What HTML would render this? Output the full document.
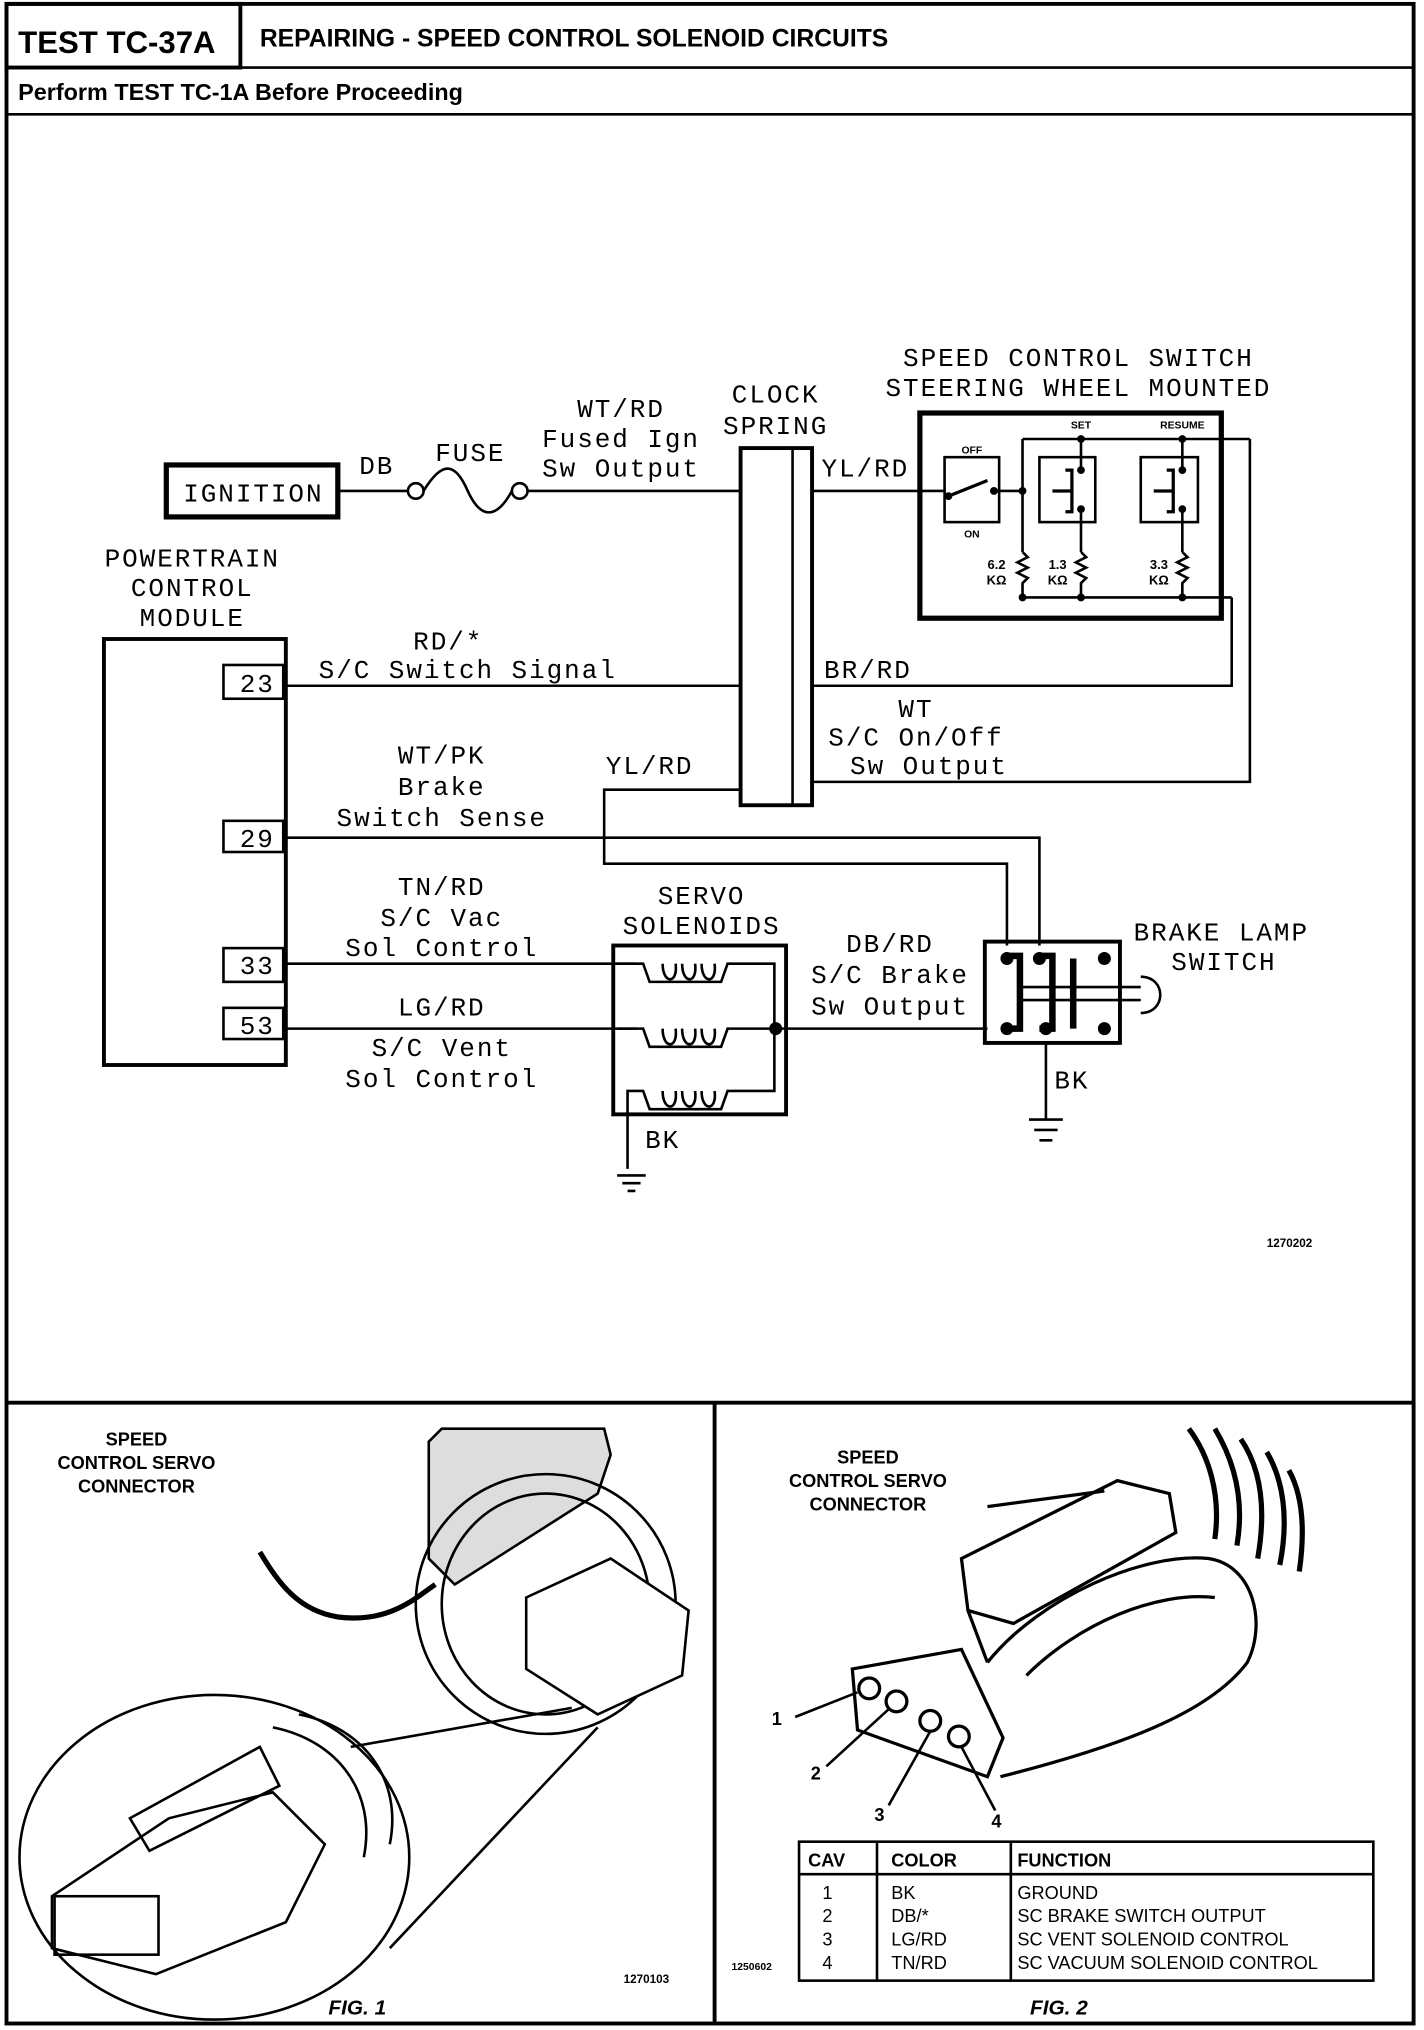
<!DOCTYPE html>
<html><head><meta charset="utf-8"><style>
html,body{margin:0;padding:0;background:#fff;overflow:hidden;width:1424px;height:2030px}
svg{display:block}
.m{font-family:"Liberation Mono",monospace;font-size:20px;letter-spacing:1.5px;fill:#000;text-anchor:middle}
.b{font-family:"Liberation Sans",sans-serif;font-weight:bold;fill:#000}
.t{font-family:"Liberation Sans",sans-serif;font-size:14px;fill:#000}
</style></head><body>
<svg width="1424" height="2030" viewBox="0 0 1096 1563" preserveAspectRatio="none" xmlns="http://www.w3.org/2000/svg">
<g fill="none" stroke="#000" stroke-width="2">
<rect x="5" y="3" width="1083" height="1555" stroke-width="3"/>
<line x1="5" y1="52" x2="1088" y2="52"/>
<rect x="5" y="3" width="180" height="49" stroke-width="3"/>
<line x1="5" y1="88" x2="1088" y2="88"/>
<line x1="5" y1="1080" x2="1088" y2="1080" stroke-width="3"/>
<line x1="550" y1="1080" x2="550" y2="1558" stroke-width="3"/>
</g>
<text class="b" x="14" y="41" font-size="24">TEST TC-37A</text>
<text class="b" x="200" y="36" font-size="19">REPAIRING - SPEED CONTROL SOLENOID CIRCUITS</text>
<text class="b" x="14" y="77" font-size="18">Perform TEST TC-1A Before Proceeding</text>

<g fill="none" stroke="#000" stroke-width="2">
<rect x="128" y="358" width="132" height="40" stroke-width="4"/>
<line x1="260" y1="378" x2="314" y2="378"/>
<circle cx="320" cy="378" r="6"/><circle cx="400" cy="378" r="6"/>
<path d="M326 378 C340 355 350 355 360 378 C370 400 382 400 394 378"/>
<line x1="406" y1="378" x2="570" y2="378"/>
<rect x="570" y="345" width="55" height="275" stroke-width="3"/>
<line x1="610" y1="345" x2="610" y2="620"/>
<line x1="625" y1="378" x2="728" y2="378"/>
<rect x="708" y="318" width="232" height="158" stroke-width="4"/>
<rect x="727" y="352" width="42" height="50"/>
<line x1="730" y1="382" x2="760" y2="370" stroke-width="2.5"/>
<line x1="765" y1="378" x2="787" y2="378"/>
<line x1="787" y1="338" x2="787" y2="425"/>
<line x1="787" y1="338" x2="962" y2="338"/>
<rect x="800" y="352" width="43" height="50"/>
<rect x="878" y="352" width="44" height="50"/>
<line x1="832" y1="338" x2="832" y2="362"/><line x1="832" y1="392" x2="832" y2="425"/>
<line x1="910" y1="338" x2="910" y2="362"/><line x1="910" y1="392" x2="910" y2="425"/>
<path d="M820 362 h5 v32 h-5 M810 378 h15" stroke-width="2.5"/>
<path d="M898 362 h5 v32 h-5 M888 378 h15" stroke-width="2.5"/>
<path d="M787 425 l4 4 l-8 4 l8 4 l-8 4 l8 4 l-4 4 v11"/>
<path d="M832 425 l4 4 l-8 4 l8 4 l-8 4 l8 4 l-4 4 v11"/>
<path d="M910 425 l4 4 l-8 4 l8 4 l-8 4 l8 4 l-4 4 v11"/>
<line x1="787" y1="460" x2="948" y2="460"/>
<polyline points="948,460 948,528 625,528"/>
<polyline points="962,338 962,602 625,602"/>
<rect x="80" y="492" width="140" height="328" stroke-width="3"/>
<rect x="172" y="512" width="46" height="26"/>
<rect x="172" y="632" width="46" height="24"/>
<rect x="172" y="730" width="46" height="26"/>
<rect x="172" y="776" width="46" height="24"/>
<line x1="218" y1="528" x2="570" y2="528"/>
<polyline points="570,608 465,608 465,665 775,665 775,728"/>
<polyline points="218,645 800,645 800,728"/>
<line x1="218" y1="742" x2="490" y2="742"/>
<line x1="218" y1="792" x2="490" y2="792"/>
<rect x="472" y="728" width="133" height="130" stroke-width="3"/>
<path d="M475 742 h20 l5 14 h55 l5 -14 h36 v98 h-36 l-5 14 h-55 l-5 -14 h-12 v60"/>
<path d="M475 792 h20 l5 14 h55 l5 -14 h36"/>
<path d="M510 742 c0 16 12 16 10 0 M525 742 c0 16 12 16 10 0 M540 742 c0 16 12 16 10 0"/>
<path d="M510 792 c0 16 12 16 10 0 M525 792 c0 16 12 16 10 0 M540 792 c0 16 12 16 10 0"/>
<path d="M510 840 c0 16 12 16 10 0 M525 840 c0 16 12 16 10 0 M540 840 c0 16 12 16 10 0"/>
<line x1="597" y1="792" x2="760" y2="792"/>
<path d="M475 905 h22 M479 911 h14 M483 917 h6"/>
<rect x="758" y="725" width="104" height="78" stroke-width="3"/>
<path d="M775 736 h10 v56 h-10" stroke-width="5"/>
<path d="M800 736 h10 v56 h-10" stroke-width="5"/>
<line x1="826" y1="738" x2="826" y2="792" stroke-width="5"/>
<line x1="785" y1="760" x2="878" y2="760"/><line x1="785" y1="770" x2="878" y2="770"/>
<path d="M878 752 c20 0 20 28 0 28"/>
<line x1="805" y1="803" x2="805" y2="862"/>
<path d="M792 862 h26 M796 870 h18 M800 878 h10"/>
</g>
<g fill="#000">
<circle cx="597" cy="792" r="5"/>
<circle cx="775" cy="738" r="5"/><circle cx="800" cy="738" r="5"/><circle cx="850" cy="738" r="5"/>
<circle cx="775" cy="792" r="5"/><circle cx="805" cy="792" r="5"/><circle cx="850" cy="792" r="5"/>
<circle cx="787" cy="378" r="3"/><circle cx="765" cy="378" r="3"/><circle cx="730" cy="382" r="3"/>
<circle cx="832" cy="362" r="3"/><circle cx="832" cy="392" r="3"/><circle cx="910" cy="362" r="3"/><circle cx="910" cy="392" r="3"/>
<circle cx="787" cy="460" r="3"/><circle cx="832" cy="460" r="3"/><circle cx="910" cy="460" r="3"/>
<circle cx="832" cy="338" r="3"/><circle cx="910" cy="338" r="3"/>
</g>
<text class="m" x="195" y="386">IGNITION</text>
<text class="m" x="290" y="365">DB</text>
<text class="m" x="362" y="355">FUSE</text>
<text class="m" x="478" y="321">WT/RD</text>
<text class="m" x="478" y="344">Fused Ign</text>
<text class="m" x="478" y="367">Sw Output</text>
<text class="m" x="597" y="310">CLOCK</text>
<text class="m" x="597" y="334">SPRING</text>
<text class="m" x="666" y="367">YL/RD</text>
<text class="m" x="830" y="282">SPEED CONTROL SWITCH</text>
<text class="m" x="830" y="305">STEERING WHEEL MOUNTED</text>
<g font-family="Liberation Sans" font-weight="bold" font-size="8" text-anchor="middle">
<text x="748" y="349">OFF</text><text x="748" y="414">ON</text>
<text x="832" y="330">SET</text><text x="910" y="330">RESUME</text>
<text x="767" y="438" font-size="10">6.2</text><text x="767" y="450" font-size="10">KΩ</text>
<text x="814" y="438" font-size="10">1.3</text><text x="814" y="450" font-size="10">KΩ</text>
<text x="892" y="438" font-size="10">3.3</text><text x="892" y="450" font-size="10">KΩ</text>
</g>
<text class="m" x="148" y="436">POWERTRAIN</text>
<text class="m" x="148" y="459">CONTROL</text>
<text class="m" x="148" y="482">MODULE</text>
<text class="m" x="198" y="533">23</text>
<text class="m" x="198" y="652">29</text>
<text class="m" x="198" y="750">33</text>
<text class="m" x="198" y="796">53</text>
<text class="m" x="345" y="500">RD/*</text>
<text class="m" x="360" y="522">S/C Switch Signal</text>
<text class="m" x="668" y="522">BR/RD</text>
<text class="m" x="705" y="552">WT</text>
<text class="m" x="705" y="574">S/C On/Off</text>
<text class="m" x="715" y="596">Sw Output</text>
<text class="m" x="500" y="596">YL/RD</text>
<text class="m" x="340" y="588">WT/PK</text>
<text class="m" x="340" y="612">Brake</text>
<text class="m" x="340" y="636">Switch Sense</text>
<text class="m" x="340" y="689">TN/RD</text>
<text class="m" x="340" y="713">S/C Vac</text>
<text class="m" x="340" y="736">Sol Control</text>
<text class="m" x="340" y="782">LG/RD</text>
<text class="m" x="340" y="813">S/C Vent</text>
<text class="m" x="340" y="837">Sol Control</text>
<text class="m" x="540" y="696">SERVO</text>
<text class="m" x="540" y="719">SOLENOIDS</text>
<text class="m" x="685" y="733">DB/RD</text>
<text class="m" x="685" y="757">S/C Brake</text>
<text class="m" x="685" y="781">Sw Output</text>
<text class="m" x="510" y="884">BK</text>
<text class="m" x="825" y="838">BK</text>
<text class="m" x="940" y="724">BRAKE LAMP</text>
<text class="m" x="942" y="747">SWITCH</text>
<text class="b" x="975" y="960" font-size="9">1270202</text>

<g class="b" font-size="14" text-anchor="middle">
<text x="105" y="1113">SPEED</text><text x="105" y="1131">CONTROL SERVO</text><text x="105" y="1149">CONNECTOR</text>
<text x="668" y="1127">SPEED</text><text x="668" y="1145">CONTROL SERVO</text><text x="668" y="1163">CONNECTOR</text>
<text x="275" y="1551" font-style="italic" font-size="16">FIG. 1</text>
<text x="815" y="1551" font-style="italic" font-size="16">FIG. 2</text>
</g>
<text class="b" x="480" y="1527" font-size="9">1270103</text>
<text class="b" x="563" y="1517" font-size="8">1250602</text>
<!-- FIG 1 -->
<g fill="none" stroke="#000" stroke-width="2">
<path d="M330 1110 L340 1100 L465 1100 L470 1120 L460 1150 L350 1220 L330 1200 Z" fill="#ddd"/>
<ellipse cx="420" cy="1235" rx="100" ry="100"/>
<ellipse cx="420" cy="1235" rx="80" ry="85"/>
<path d="M405 1230 L470 1200 L530 1240 L525 1290 L460 1320 L405 1285 Z" fill="#fff"/>
<path d="M200 1195 C215 1220 230 1240 260 1245 C300 1250 320 1230 335 1220" stroke-width="4"/>
<ellipse cx="165" cy="1430" rx="150" ry="125"/>
<line x1="270" y1="1345" x2="440" y2="1315"/>
<line x1="300" y1="1500" x2="460" y2="1330"/>
<path d="M40 1460 L130 1400 L210 1380 L250 1420 L220 1480 L120 1520 L40 1500 Z"/>
<path d="M100 1400 L200 1345 L215 1375 L115 1425 Z"/>
<rect x="42" y="1460" width="80" height="45"/>
<path d="M210 1330 C260 1340 290 1380 280 1430"/>
<path d="M230 1320 C280 1330 310 1370 300 1420"/>
</g>
<!-- FIG 2 -->
<g fill="none" stroke="#000" stroke-width="2.5">
<path d="M915 1100 C930 1120 940 1150 935 1185 M935 1100 C950 1125 958 1155 952 1190 M955 1108 C970 1130 975 1160 968 1200 M975 1118 C988 1140 992 1170 985 1205 M992 1132 C1002 1150 1005 1175 1000 1210" stroke-width="4"/>
<path d="M760 1280 C800 1230 880 1195 930 1200 C965 1205 975 1250 960 1280 C930 1320 860 1345 770 1368"/>
<path d="M790 1290 C830 1250 890 1225 935 1230"/>
<path d="M740 1200 L860 1140 L900 1150 L905 1180 L780 1250 L745 1240 Z" fill="#fff"/>
<path d="M745 1240 L760 1280"/>
<path d="M760 1160 L850 1148"/>
<path d="M656 1285 L740 1270 L772 1338 L760 1368 L660 1332 Z" fill="#fff"/>
<circle cx="669" cy="1300" r="8"/><circle cx="690" cy="1310" r="8"/><circle cx="716" cy="1325" r="8"/><circle cx="738" cy="1337" r="8"/>
</g>
<g fill="none" stroke="#000" stroke-width="2">
<line x1="612" y1="1322" x2="660" y2="1303"/>
<line x1="636" y1="1360" x2="684" y2="1316"/>
<line x1="684" y1="1390" x2="716" y2="1333"/>
<line x1="766" y1="1394" x2="740" y2="1345"/>
<rect x="615" y="1418" width="442" height="107"/>
<line x1="615" y1="1443" x2="1057" y2="1443"/>
<line x1="675" y1="1418" x2="675" y2="1525"/>
<line x1="778" y1="1418" x2="778" y2="1525"/>
</g>
<g class="b" font-size="14">
<text x="594" y="1328">1</text><text x="624" y="1370">2</text><text x="673" y="1402">3</text><text x="763" y="1407">4</text>
<text x="622" y="1437">CAV</text><text x="686" y="1437">COLOR</text><text x="783" y="1437">FUNCTION</text>
</g>
<g class="t">
<text x="633" y="1462">1</text><text x="633" y="1480">2</text><text x="633" y="1498">3</text><text x="633" y="1516">4</text>
<text x="686" y="1462">BK</text><text x="686" y="1480">DB/*</text><text x="686" y="1498">LG/RD</text><text x="686" y="1516">TN/RD</text>
<text x="783" y="1462">GROUND</text><text x="783" y="1480">SC BRAKE SWITCH OUTPUT</text><text x="783" y="1498">SC VENT SOLENOID CONTROL</text><text x="783" y="1516">SC VACUUM SOLENOID CONTROL</text>
</g>
</svg>
</body></html>
